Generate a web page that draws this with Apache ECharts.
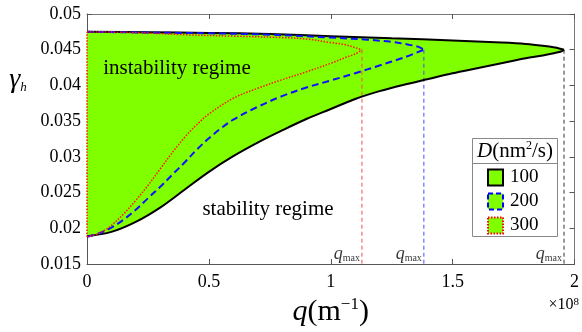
<!DOCTYPE html>
<html>
<head>
<meta charset="utf-8">
<script src="https://cdn.jsdelivr.net/npm/echarts@6.0.0/dist/echarts.min.js"></script>
<style>
  html, body { margin: 0; padding: 0; background: #fff; }
  #chart { width: 582px; height: 332px; }
</style>
</head>
<body>
<div id="chart"></div>
<script>
// D = 100 nm^2/s (solid black, filled)
const qUpper100 = [0, 0.25, 0.5, 0.75, 1.0, 1.25, 1.5, 1.7, 1.8, 1.87, 1.92, 1.945, 1.957];
const gUpper100 = [0.0475, 0.04745, 0.04735, 0.0472, 0.0469, 0.0466, 0.0463, 0.0460, 0.0458, 0.04555, 0.0453, 0.0451, 0.0450];
const qLower100 = [0, 0.1, 0.2, 0.3, 0.4, 0.5, 0.6, 0.7, 0.8, 0.9, 1.0, 1.1, 1.2, 1.3, 1.4, 1.5, 1.6, 1.7, 1.8, 1.87, 1.92, 1.945, 1.957];
const gLower100 = [0.0189, 0.0195, 0.0209, 0.0229, 0.0254, 0.0279, 0.0301, 0.0320, 0.0337, 0.0353, 0.0367, 0.0381, 0.0392, 0.0401, 0.0409, 0.0417, 0.0424, 0.0431, 0.0438, 0.0442, 0.04455, 0.04475, 0.0450];

// D = 200 (blue dashed)
const qUpper200 = [0, 0.25, 0.5, 0.75, 1.0, 1.15, 1.25, 1.32, 1.36, 1.382];
const gUpper200 = [0.0475, 0.0474, 0.0473, 0.0471, 0.0467, 0.0464, 0.0461, 0.0457, 0.0454, 0.0450];
const qLower200 = [0, 0.05, 0.1, 0.15, 0.2, 0.25, 0.3, 0.35, 0.4, 0.45, 0.5, 0.55, 0.6, 0.7, 0.8, 0.9, 1.0, 1.1, 1.2, 1.3, 1.382];
const gLower200 = [0.0188, 0.0193, 0.0201, 0.0212, 0.0226, 0.0242, 0.0258, 0.0275, 0.0292, 0.0310, 0.0326, 0.0340, 0.0352, 0.0370, 0.0385, 0.0397, 0.0407, 0.0417, 0.0428, 0.0439, 0.0450];

// D = 300 (red dotted)
const qUpper300 = [0, 0.2, 0.4, 0.6, 0.8, 0.9, 1.0, 1.06, 1.1, 1.118, 1.128];
const gUpper300 = [0.0475, 0.0474, 0.0471, 0.0469, 0.0467, 0.0465, 0.0460, 0.0457, 0.0453, 0.0451, 0.0450];
const qLower300 = [0, 0.05, 0.1, 0.15, 0.2, 0.25, 0.3, 0.35, 0.4, 0.45, 0.5, 0.6, 0.7, 0.8, 0.9, 1.0, 1.06, 1.1, 1.128];
const gLower300 = [0.0188, 0.0193, 0.0204, 0.0220, 0.0239, 0.0260, 0.0283, 0.0306, 0.0327, 0.0345, 0.0360, 0.0382, 0.0396, 0.0408, 0.0419, 0.0431, 0.0439, 0.0444, 0.0450];

const dNames = ['100', '200', '300'];
const qMax = [1.957, 1.382, 1.128];
const gMaxPoint = 0.045;
const yMin = 0.015, yMax = 0.05;

const serif = 'Liberation Serif';
const green = '#80ff00';

const pairs = (qs, gs) => qs.map((q, i) => [q, gs[i]]);

// closed outline of the D=100 region for the fill
const fill100 = pairs(qUpper100, gUpper100)
    .concat(pairs(qLower100, gLower100).reverse().slice(1));
fill100.unshift([0, gLower100[0]]);

const chart = echarts.init(document.getElementById('chart'));

const axisColor = '#555';
const tick = { inside: true, length: 5, lineStyle: { color: axisColor } };
const labelStyle = { color: '#000', fontFamily: serif, fontSize: 18 };

function branch(name, data, lineStyle) {
    return {
        name: name, type: 'line', data: data, symbol: 'none', z: 4, silent: true,
        smooth: 0.35, lineStyle: lineStyle
    };
}

function vline(q, color) {
    return {
        type: 'line', data: [[q, gMaxPoint], [q, yMin]], symbol: 'none', z: 3,
        lineStyle: { color: color, width: 1, type: [4, 3] }, silent: true
    };
}

const styles = [
    { color: '#000', width: 2 },
    { color: '#1010ff', width: 2, type: [7, 4] },
    { color: '#ff1500', width: 1.5, type: [1.5, 1.5] }
];

chart.setOption({
    animation: false,
    grid: { left: 87, right: 2, top: 14, bottom: 68 },
    xAxis: [
        {
            type: 'value', min: 0, max: 2, interval: 0.5, position: 'bottom',
            axisLine: { onZero: false, lineStyle: { color: axisColor } },
            axisTick: tick, splitLine: { show: false },
            axisLabel: Object.assign({ margin: 9 }, labelStyle),
            name: '{i|q}{n|(m}{s|−1}{n|)}', nameLocation: 'middle', nameGap: 14,
            nameTextStyle: {
                rich: {
                    i: { fontFamily: serif, fontStyle: 'italic', fontSize: 30, lineHeight: 32, color: '#000' },
                    n: { fontFamily: serif, fontSize: 30, lineHeight: 32, color: '#000' },
                    s: { fontFamily: serif, fontSize: 17, lineHeight: 14, verticalAlign: 'top', color: '#000' }
                }
            }
        },
        {
            type: 'value', min: 0, max: 2, interval: 0.5, position: 'top',
            axisLine: { onZero: false, lineStyle: { color: '#777' } },
            axisTick: tick, splitLine: { show: false }, axisLabel: { show: false }
        }
    ],
    yAxis: [
        {
            type: 'value', min: yMin, max: yMax, interval: 0.005, position: 'left',
            axisLine: { show: true, onZero: false, lineStyle: { color: axisColor } },
            axisTick: tick, splitLine: { show: false },
            axisLabel: Object.assign({ margin: 6, formatter: v => String(parseFloat(v.toFixed(3))) }, labelStyle)
        },
        {
            type: 'value', min: yMin, max: yMax, interval: 0.005, position: 'right',
            axisLine: { show: true, onZero: false, lineStyle: { color: '#777' } },
            axisTick: tick, splitLine: { show: false }, axisLabel: { show: false }
        }
    ],
    legend: {
        data: [
            { name: dNames[0], itemStyle: { color: green, borderColor: '#000', borderWidth: 2, borderType: 'solid' } },
            { name: dNames[1], itemStyle: { color: green, borderColor: '#0000ff', borderWidth: 2, borderType: [5, 3] } },
            { name: dNames[2], itemStyle: { color: green, borderColor: '#ff0000', borderWidth: 2, borderType: [1.5, 1.5] } }
        ],
        icon: 'rect', orient: 'vertical', left: 487, top: 168,
        itemWidth: 15, itemHeight: 16, itemGap: 5, padding: 0,
        textStyle: { fontFamily: serif, fontSize: 19, color: '#000', padding: [0, 0, 0, 2] },
        selectedMode: false, z: 10
    },
    graphic: [
        { type: 'rect', shape: { x: 472.5, y: 138.5, width: 85, height: 98 }, style: { fill: '#fff', stroke: '#888', lineWidth: 1 }, z: 5 },
        { type: 'line', shape: { x1: 472.5, y1: 163.5, x2: 557.5, y2: 163.5 }, style: { stroke: '#888', lineWidth: 1 }, z: 5 },
        {
            type: 'text', x: 515, y: 151, z: 6,
            style: {
                text: '{i|D}{n|(nm}{s|2}{n|/s)}', align: 'center', verticalAlign: 'middle',
                rich: {
                    i: { fontFamily: serif, fontStyle: 'italic', fontSize: 21, lineHeight: 22, fill: '#000' },
                    n: { fontFamily: serif, fontSize: 21, lineHeight: 22, fill: '#000' },
                    s: { fontFamily: serif, fontSize: 12, lineHeight: 10, verticalAlign: 'top', fill: '#000' }
                }
            }
        },
        {
            type: 'text', x: 177, y: 68, z: 6,
            style: { text: 'instability regime', fontFamily: serif, fontSize: 21, fill: '#000', align: 'center', verticalAlign: 'middle' }
        },
        {
            type: 'text', x: 268, y: 209, z: 6,
            style: { text: 'stability regime', fontFamily: serif, fontSize: 21, fill: '#000', align: 'center', verticalAlign: 'middle' }
        },
        {
            type: 'text', x: 18, y: 80, z: 6,
            style: {
                text: '{g|γ}{h|h}', align: 'center', verticalAlign: 'middle',
                rich: {
                    g: { fontFamily: serif, fontStyle: 'italic', fontSize: 28, lineHeight: 28, fill: '#000' },
                    h: { fontFamily: serif, fontStyle: 'italic', fontSize: 13, lineHeight: 8, verticalAlign: 'bottom', fill: '#000' }
                }
            }
        },
        {
            type: 'text', x: 579, y: 305, z: 6,
            style: {
                text: '{a|×10}{s|8}', align: 'right', verticalAlign: 'middle',
                rich: {
                    a: { fontFamily: serif, fontSize: 16, lineHeight: 16, fill: '#000' },
                    s: { fontFamily: serif, fontSize: 11, lineHeight: 10, verticalAlign: 'top', fill: '#000' }
                }
            }
        }
    ],
    series: [
        {
            name: 'fill', type: 'custom', data: fill100, z: 1, silent: true,
            encode: { x: 0, y: 1 },
            renderItem: function (params, api) {
                if (params.dataIndex !== 0) return null;
                return {
                    type: 'polygon',
                    shape: { points: fill100.map(p => api.coord(p)) },
                    style: { fill: green, stroke: 'none' }
                };
            }
        },
        branch(dNames[0], pairs(qUpper100, gUpper100), styles[0]),
        branch(dNames[0], pairs(qLower100, gLower100), styles[0]),
        branch(dNames[1], pairs(qUpper200, gUpper200), styles[1]),
        branch(dNames[1], pairs(qLower200, gLower200), styles[1]),
        branch(dNames[2], pairs(qUpper300, gUpper300), styles[2]),
        branch(dNames[2], pairs(qLower300, gLower300), styles[2]),
        branch(dNames[2], [[0, gLower300[0]], [0, gUpper300[0]]], styles[2]),
        vline(qMax[0], '#333'),
        vline(qMax[1], '#4a4aff'),
        vline(qMax[2], '#ff4a4a'),
        {
            name: 'qmax', type: 'scatter', symbolSize: 0, z: 6, silent: true,
            data: qMax.map(q => [q, yMin]),
            label: {
                show: true, position: [-2, -1], align: 'right', verticalAlign: 'bottom',
                formatter: '{q|q}{m|max}',
                rich: {
                    q: { fontFamily: serif, fontStyle: 'italic', fontSize: 18, lineHeight: 18, color: '#000' },
                    m: { fontFamily: serif, fontSize: 10, lineHeight: 8, verticalAlign: 'bottom', color: '#000' }
                }
            }
        }
    ]
});
</script>
</body>
</html>
